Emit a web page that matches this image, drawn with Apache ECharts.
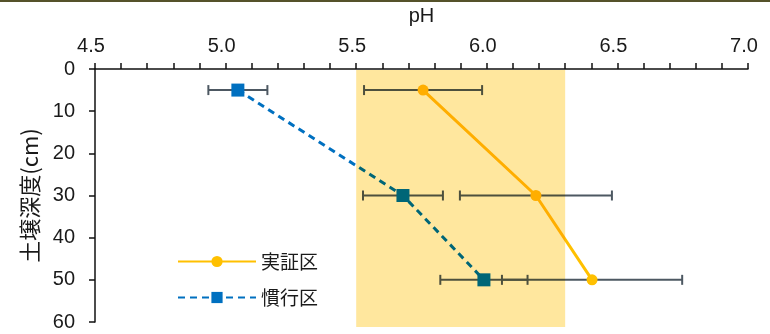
<!DOCTYPE html>
<html><head><meta charset="utf-8">
<script src="https://cdn.jsdelivr.net/npm/echarts@6/dist/echarts.min.js"></script>
<style>html,body{margin:0;padding:0;background:#fff}#c{width:770px;height:334px}</style>
</head><body><div id="c"></div>
<script>
var depths = [5, 30, 50];
var jisshoMean = [5.756, 6.188, 6.403];
var jisshoErr = [0.226, 0.291, 0.345];
var kankoMean = [5.047, 5.679, 5.989];
var kankoErr = [0.113, 0.153, 0.167];
var band = [5.5, 6.3];
var xTicks = [4.5, 7.0, 0.5];
var yTicks = [0, 60, 10];
var seriesNames = ['実証区', '慣行区'];

var chart = echarts.init(document.getElementById('c'));
var font = '"Liberation Sans", Arial, "Noto Sans CJK JP", sans-serif';
var cjk = '"Noto Sans CJK JP", "Liberation Sans", sans-serif';

function pts(means) { return means.map(function (m, i) { return [m, depths[i]]; }); }
function errData(means, errs) { return means.map(function (m, i) { return [m - errs[i], m + errs[i], depths[i]]; }); }

function errRender(params, api) {
  var lo = api.coord([api.value(0), api.value(2)]);
  var hi = api.coord([api.value(1), api.value(2)]);
  var st = { stroke: '#4d5862', lineWidth: 2 };
  return { type: 'group', children: [
    { type: 'line', shape: { x1: lo[0], y1: lo[1], x2: hi[0], y2: hi[1] }, style: st },
    { type: 'line', shape: { x1: lo[0], y1: lo[1] - 5, x2: lo[0], y2: lo[1] + 5 }, style: st },
    { type: 'line', shape: { x1: hi[0], y1: hi[1] - 5, x2: hi[0], y2: hi[1] + 5 }, style: st }
  ]};
}

var option = {
  animation: false,
  backgroundColor: '#fff',
  grid: { left: 95, right: 22, top: 69, bottom: 12, containLabel: false, outerBoundsMode: 'none' },
  xAxis: {
    type: 'value', position: 'top', min: xTicks[0], max: xTicks[1], interval: xTicks[2],
    name: 'pH', nameLocation: 'middle', nameGap: 43, nameMoveOverlap: false,
    nameTextStyle: { fontFamily: font, fontSize: 20, color: '#1a1a1a' },
    axisLine: { show: true, lineStyle: { color: '#111', width: 1.5 } },
    axisTick: { show: true, length: 6, lineStyle: { color: '#111', width: 1.5 } },
    minorTick: { show: true, splitNumber: 5, length: 6, lineStyle: { color: '#111', width: 1.5 } },
    axisLabel: { fontFamily: font, fontSize: 20, color: '#1a1a1a', margin: 13, padding: [0, 8, 0, 0],
      formatter: function (v) { return v.toFixed(1); } },
    splitLine: { show: false }
  },
  yAxis: {
    type: 'value', inverse: true, min: yTicks[0], max: yTicks[1], interval: yTicks[2],
    name: '土壌深度(cm)', nameLocation: 'middle', nameGap: 54, nameRotate: 90, nameMoveOverlap: false,
    nameTextStyle: { fontFamily: cjk, fontSize: 22, color: '#1a1a1a' },
    axisLine: { show: true, lineStyle: { color: '#111', width: 1.5 } },
    axisTick: { show: true, length: 6, lineStyle: { color: '#111', width: 1.5 } },
    axisLabel: { fontFamily: font, fontSize: 20, color: '#1a1a1a', margin: 20 },
    splitLine: { show: false }
  },
  legend: {
    orient: 'vertical', left: 172, top: 247, itemWidth: 78, itemHeight: 14, itemGap: 17,
    textStyle: { fontFamily: cjk, fontSize: 19, color: '#1a1a1a' },
    data: seriesNames
  },
  graphic: [
    { type: 'line', shape: { x1: 0, y1: 1, x2: 770, y2: 1 }, style: { stroke: '#55522a', lineWidth: 2 } }
  ],
  series: [
    { type: 'custom', name: 'err1', renderItem: errRender, data: errData(jisshoMean, jisshoErr), z: 1, silent: true },
    { type: 'custom', name: 'err2', renderItem: errRender, data: errData(kankoMean, kankoErr), z: 1, silent: true },
    { type: 'line', name: seriesNames[0], data: pts(jisshoMean), z: 3,
      symbol: 'circle', symbolSize: 11, showSymbol: true,
      lineStyle: { color: '#FFC000', width: 3 }, itemStyle: { color: '#FFC000' } },
    { type: 'line', name: seriesNames[1], data: pts(kankoMean), z: 3,
      symbol: 'rect', symbolSize: 13, showSymbol: true,
      lineStyle: { color: '#0070C0', width: 3, type: [7, 5] }, itemStyle: { color: '#0070C0' } }
  ]
};
chart.setOption(option);

// shaded band (pH 5.5–6.3) multiplied over the plot
var p0 = chart.convertToPixel({ gridIndex: 0 }, [band[0], yTicks[0]]);
var p1 = chart.convertToPixel({ gridIndex: 0 }, [band[1], yTicks[1]]);
var rect = new echarts.graphic.Rect({
  shape: { x: p0[0], y: p0[1] + 1, width: p1[0] - p0[0], height: p1[1] - p0[1] + 4 },
  style: { fill: '#FFE79E', blend: 'multiply' },
  z: 100, silent: true
});
chart.getZr().add(rect);
</script></body></html>
